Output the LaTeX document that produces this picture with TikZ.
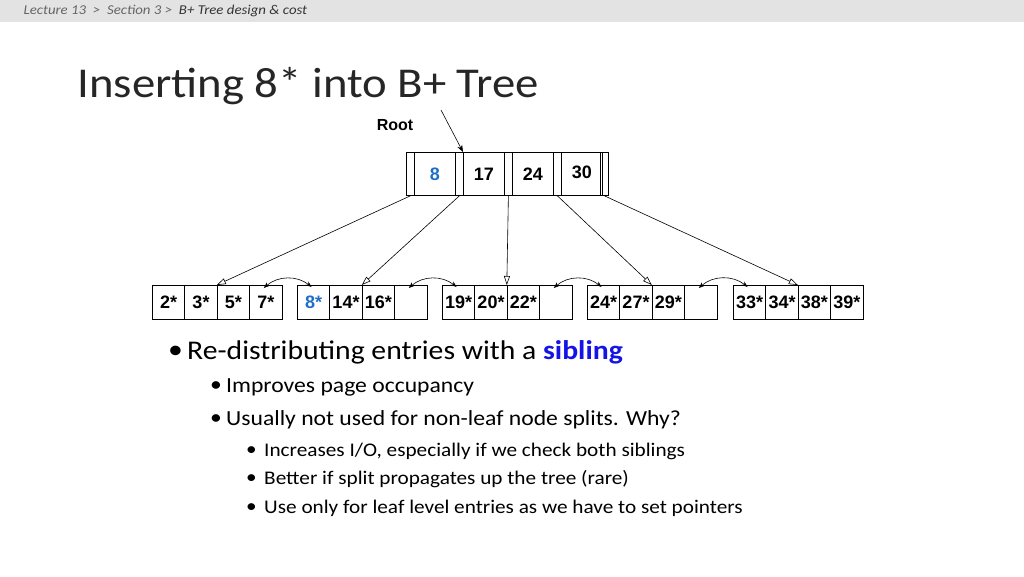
\documentclass[tikz,border=0pt]{standalone}
\usepackage{fontspec}
\setmainfont{Carlito}[FakeStretch=1.1]
\newfontfamily\hv{Liberation Sans}
\usetikzlibrary{arrows.meta}
\definecolor{keyblue}{RGB}{30,110,200}
\definecolor{sibblue}{RGB}{20,20,230}
\begin{document}
\begin{tikzpicture}[x=1pt,y=-1pt,
  cell/.style={draw,line width=0.8pt,minimum width=32.4pt,minimum height=34pt,inner sep=0pt,anchor=north west,font=\hv\bfseries\fontsize{18}{18}\selectfont},
  rkey/.style={draw,line width=0.8pt,minimum width=41pt,minimum height=43pt,inner sep=0pt,anchor=north west,font=\hv\bfseries\fontsize{18}{18}\selectfont},
  rptr/.style={draw,line width=0.8pt,minimum width=8pt,minimum height=43pt,inner sep=0pt,anchor=north west},
  ptr/.style={-{Triangle[open,length=9pt,width=6pt]},line width=0.6pt},
  sib/.style={{Stealth[length=6pt]}-{Stealth[length=6pt]},line width=0.6pt},
  b1/.style={anchor=west,inner sep=0pt,font=\fontsize{27}{27}\selectfont},
  b2/.style={anchor=west,inner sep=0pt,font=\fontsize{21.5}{21.5}\selectfont},
  b3/.style={anchor=west,inner sep=0pt,font=\fontsize{19.3}{19.3}\selectfont}]
\useasboundingbox (0,0) rectangle (1024,576);
\fill[gray!22] (0,0) rectangle (1024,22);
\node[anchor=west,font=\itshape\fontsize{13.5}{13.5}\selectfont,text=gray!80!black] (bc) at (20,11) {Lecture 13 \ > \ Section 3 > \ \textcolor{black!80}{B+ Tree design \& cost}};
\node[anchor=west,font=\fontsize{42.5}{42.5}\selectfont,text=black!85] (title) at (74,86) {Inserting 8* into B+ Tree};
\node[font=\hv\bfseries\fontsize{16}{16}\selectfont] (rootlbl) at (395,125) {Root};
% root node
\node[rptr] (p0) at (406,152) {};
\node[rkey,text=keyblue] (k1) at (414,152) {8};
\node[rptr] (p1) at (455,152) {};
\node[rkey] (k2) at (463,152) {17};
\node[rptr] (p2) at (504,152) {};
\node[rkey] (k3) at (512,152) {24};
\node[rptr] (p3) at (553,152) {};
\node[rkey] (k4) at (561,152) {\raisebox{3pt}{30}};
\node[rptr] (p4) at (600,152) {};
\coordinate (rl) at (441,110);
\draw[-{Stealth[length=7pt]},line width=0.6pt] (rl) -- (k2.north west);
% leaves
\foreach \n/\x/\a/\b/\c/\d in {L1/152/2*/3*/5*/7*, L2/297/{\textcolor{keyblue}{8*}}/14*/16*/{}, L3/442/19*/20*/22*/{}, L4/587/24*/27*/29*/{}, L5/733/33*/34*/38*/39*}{
  \node[cell] (\n a) at (\x,285) {\a};
  \node[cell] (\n b) at (\x+32.4,285) {\b};
  \node[cell] (\n c) at (\x+64.8,285) {\c};
  \node[cell] (\n d) at (\x+97.2,285) {\d};
}
\draw[ptr] (p0.south) -- (L1c.north west);
\draw[ptr] (p1.south) -- (L2c.north west);
\draw[ptr] (p2.south) -- (L3c.north west);
\draw[ptr] (p3.south) -- (L4c.north west);
\draw[ptr] (p4.south) -- (L5c.north west);
\draw[sib] ([xshift=-2pt,yshift=-3pt]L1d.north) to[bend left=40] ([xshift=-2pt,yshift=-2pt]L2a.north);
\draw[sib] ([xshift=-2pt,yshift=-3pt]L2d.north) to[bend left=40] ([xshift=-2pt,yshift=-2pt]L3a.north);
\draw[sib] ([xshift=-2pt,yshift=-3pt]L3d.north) to[bend left=40] ([xshift=-2pt,yshift=-2pt]L4a.north);
\draw[sib] ([xshift=-2pt,yshift=-3pt]L4d.north) to[bend left=40] ([xshift=-2pt,yshift=-2pt]L5a.north);
% bullets
\node[b1] (u1) at (168,352) {•};
\node[b1] (t1) at (187,352) {Re-distributing entries with a \textcolor{sibblue}{\bfseries sibling}};
\node[b2] (u2) at (210,387) {•};
\node[b2] (t2) at (226,387) {Improves page occupancy};
\node[b2] (u3) at (210,420) {•};
\node[b2] (t3) at (226,420) {Usually not used for non-leaf node splits. Why?};
\node[b3] (u4) at (246,451) {•};
\node[b3] (t4) at (264,451) {Increases I/O, especially if we check both siblings};
\node[b3] (u5) at (246,479) {•};
\node[b3] (t5) at (264,479) {Better if split propagates up the tree (rare)};
\node[b3] (u6) at (246,508) {•};
\node[b3] (t6) at (264,508) {Use only for leaf level entries as we have to set pointers};
\end{tikzpicture}
\end{document}
